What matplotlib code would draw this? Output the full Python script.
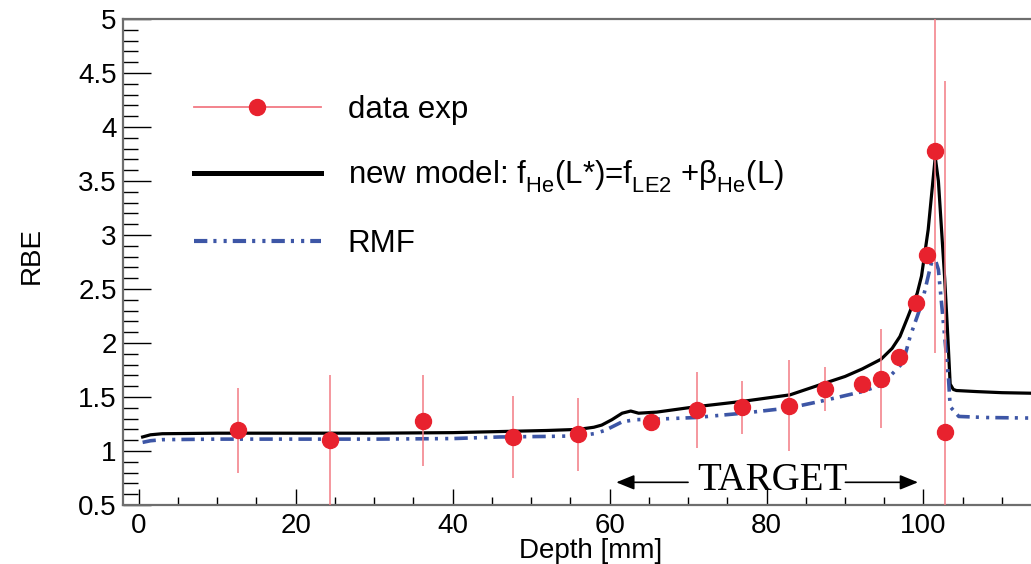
import matplotlib
matplotlib.use("Agg")
import matplotlib.pyplot as plt
from matplotlib.lines import Line2D
from matplotlib.ticker import MultipleLocator

plt.rcParams['font.family'] = ['Liberation Sans', 'DejaVu Sans']
plt.rcParams['mathtext.fontset'] = 'custom'
plt.rcParams['mathtext.rm'] = 'Liberation Sans'
plt.rcParams['mathtext.it'] = 'Liberation Sans:italic'

# deeper subscripts in the legend formula
try:
    from matplotlib import _mathtext
    _mathtext.FontConstantsBase.sub1 = 0.55
    _mathtext.FontConstantsBase.sub2 = 0.6
except Exception:
    pass

# measured RBE points
exp_depth = [12.7, 24.4, 36.2, 47.7, 56.0, 65.3, 71.1, 76.9, 82.8, 87.5,
             92.2, 94.6, 96.9, 99.1, 100.4, 101.5, 102.7]
exp_rbe = [1.19, 1.10, 1.28, 1.13, 1.155, 1.264, 1.38, 1.405, 1.42, 1.575,
           1.62, 1.67, 1.87, 2.367, 2.815, 3.78, 1.18]
exp_err = [0.39, 0.60, 0.42, 0.38, 0.34, 0.0, 0.35, 0.245, 0.42, 0.20,
           0.0, 0.46, 0.0, 0.0, 0.0, 1.87, 3.25]

# new model curve
model_depth = [0.5, 1.5, 3, 10, 20, 30, 40, 46, 52, 56, 58, 59, 60.3, 61.6,
               62.7, 63.7, 66, 71, 77, 83, 87.5, 90, 92.2, 94.6, 96, 97,
               98, 98.7, 99.2, 99.75, 100.6, 101.2, 101.5, 101.9, 102.3,
               102.7, 103.1, 103.4, 103.8, 104.2, 106.8, 110, 113.7]
model_rbe = [1.13, 1.15, 1.16, 1.165, 1.165, 1.165, 1.17, 1.18, 1.19, 1.20,
             1.22, 1.24, 1.29, 1.35, 1.37, 1.35, 1.36, 1.41, 1.46, 1.52,
             1.63, 1.69, 1.76, 1.85, 1.95, 2.06, 2.24, 2.37, 2.46, 2.62,
             3.05, 3.5, 3.72, 3.5, 3.05, 2.6, 2.06, 1.62, 1.57, 1.56,
             1.55, 1.54, 1.535]

# RMF curve
rmf_depth = [0.5, 1.5, 3, 10, 20, 30, 40, 46, 52, 56, 58, 59.4, 60.5, 61.6,
             63.3, 66, 71, 77, 83, 87.5, 92.2, 94.6, 95.7, 97.4, 98.3, 99.8,
             100.8, 101.3, 101.9, 102.7, 103.2, 103.4, 104.5, 108, 113.7]
rmf_rbe = [1.08, 1.095, 1.105, 1.11, 1.11, 1.11, 1.115, 1.13, 1.135, 1.14,
           1.16, 1.19, 1.23, 1.27, 1.29, 1.295, 1.31, 1.35, 1.40, 1.47,
           1.55, 1.61, 1.69, 1.82, 2.06, 2.37, 2.68, 2.82, 2.68, 2.06,
           1.66, 1.41, 1.32, 1.31, 1.305]

legend_labels = ['data exp',
                 r'new model: f$_{\mathregular{He}}$(L*)=f$_{\mathregular{LE2}}$ +'
                 r'β$_{\mathregular{He}}$(L)',
                 'RMF']

RED = '#e8222e'
ERR = '#f27a84'
BLUE = '#3d56a6'
FRAME = '#6e6e6e'

fig = plt.figure(figsize=(10.31, 5.64), dpi=100)
ax = fig.add_axes([123 / 1031, 59 / 564, 908 / 1031, 486 / 564])

rmf_style = (0, (3.7, 1.7, 0.85, 2.0, 0.85, 1.7))

ax.plot(model_depth, model_rbe, color='black', lw=2.3, zorder=3)
ax.plot(rmf_depth, rmf_rbe, color=BLUE, lw=2.6, linestyle=rmf_style, zorder=3)
ax.errorbar(exp_depth, exp_rbe, yerr=exp_err, fmt='none', ecolor=ERR,
            elinewidth=1.1, capsize=0, zorder=4)
ax.plot(exp_depth, exp_rbe, 'o', color=RED, ms=11.5, mec=RED, zorder=5)

ax.set_xlim(-2, 113.7)
ax.set_ylim(0.5, 5)

ax.xaxis.set_major_locator(MultipleLocator(20))
ax.xaxis.set_minor_locator(MultipleLocator(5))
ax.yaxis.set_major_locator(MultipleLocator(0.5))
ax.yaxis.set_minor_locator(MultipleLocator(0.1))
ax.yaxis.set_major_formatter(plt.FuncFormatter(lambda v, p: f'{v:g}'))

ax.tick_params(axis='both', which='both', direction='in', colors='black',
               labelsize=20, top=False, right=False)
ax.tick_params(axis='y', which='major', length=20, width=1.0, pad=4.5)
ax.tick_params(axis='y', which='minor', length=10.5, width=1.0)
ax.tick_params(axis='x', which='major', length=11.3, width=1.0, pad=6)
ax.tick_params(axis='x', which='minor', length=5.8, width=1.0)

for side in ('left', 'bottom', 'top'):
    ax.spines[side].set_color(FRAME)
    ax.spines[side].set_linewidth(1.6)
ax.spines['right'].set_visible(False)

ax.set_xlabel('Depth [mm]', fontsize=20)
ax.xaxis.set_label_coords(0.515, -0.068)
ax.set_ylabel('RBE', fontsize=20, va='center')
ax.yaxis.set_label_coords(-0.101, 0.514)

# target region marker
ax.text(80.7, 0.725, 'TARGET', family='Liberation Serif', fontsize=28,
        ha='center', va='center', zorder=6)
arrow = dict(arrowstyle='-|>,head_length=1.1,head_width=0.45', color='black',
             lw=1.2, shrinkA=0, shrinkB=0)
ax.annotate('', xy=(60.85, 0.71), xytext=(70.0, 0.71), arrowprops=arrow)
ax.annotate('', xy=(99.3, 0.71), xytext=(90.05, 0.71), arrowprops=arrow)

handles = [
    Line2D([], [], color=ERR, lw=1.3, marker='o', ms=11.5, mfc=RED, mec=RED),
    Line2D([], [], color='black', lw=3.6),
    Line2D([], [], color=BLUE, lw=3.0, linestyle=(0, (3.2, 1.45, 0.75, 1.7, 0.75, 1.45))),
]
leg = ax.legend(handles, legend_labels, loc='upper left',
                bbox_to_anchor=(0.0782, 0.844), frameon=False, fontsize=22.5,
                handlelength=4.06, handletextpad=0.86, borderpad=0,
                borderaxespad=0, labelspacing=1.09, numpoints=1)

fig.savefig('out.png', dpi=100)
